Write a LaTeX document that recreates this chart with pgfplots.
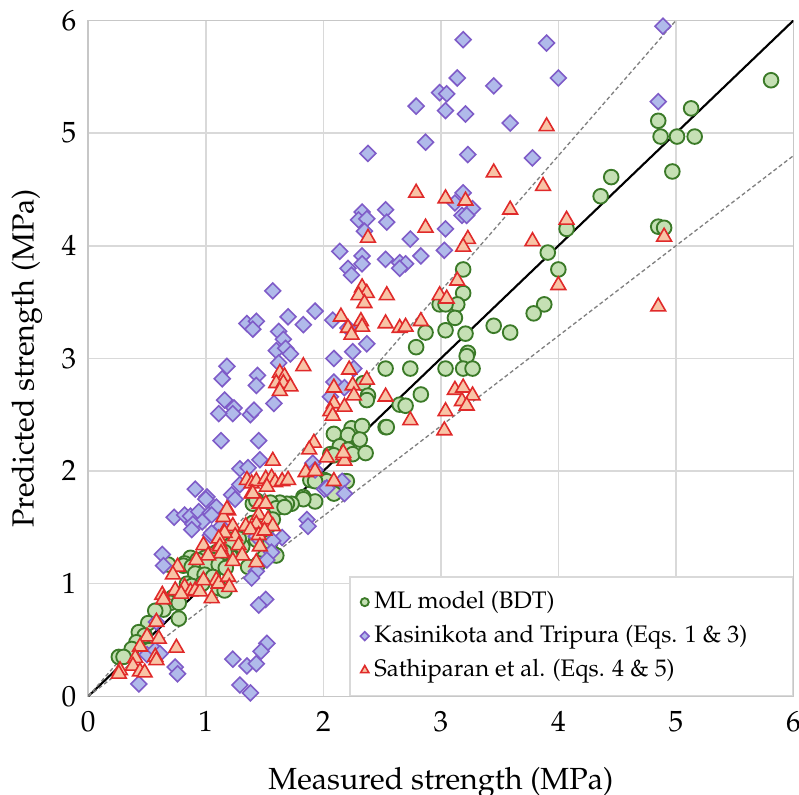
\documentclass[border=0pt]{standalone}
\usepackage[T1]{fontenc}
\usepackage{mathpazo}
\usepackage{pgfplots}
\usepackage{pgfplotstable}
\pgfplotsset{compat=1.18}
\definecolor{gridgray}{HTML}{D9D9D9}
\definecolor{mlfill}{HTML}{C5E0B4}
\definecolor{mldraw}{HTML}{3B7A28}
\definecolor{ktfill}{HTML}{B0BAEA}
\definecolor{ktdraw}{HTML}{7F5CC8}
\definecolor{stfill}{HTML}{F8C4A6}
\definecolor{stdraw}{HTML}{E02A2A}

\pgfplotstableread{
x y
5.81 5.47
5.13 5.22
4.85 5.11
4.87 4.97
5.01 4.97
5.16 4.97
4.97 4.66
4.45 4.61
4.36 4.44
4.85 4.17
4.90 4.16
4.07 4.15
3.91 3.94
4.00 3.79
3.19 3.79
3.19 3.58
3.14 3.48
3.12 3.36
3.88 3.48
3.79 3.40
3.45 3.29
3.59 3.23
3.21 3.22
3.23 3.05
3.22 3.02
3.19 2.91
3.27 2.91
2.99 3.48
3.04 3.48
2.87 3.23
3.04 3.25
2.79 3.10
2.53 2.91
2.74 2.91
3.04 2.91
2.83 2.68
2.65 2.59
2.70 2.58
2.34 2.78
2.38 2.67
2.37 2.63
2.53 2.39
2.54 2.39
2.09 2.33
2.24 2.38
2.33 2.40
2.21 2.32
2.31 2.28
2.14 2.22
2.21 2.19
2.25 2.15
2.36 2.16
2.06 2.15
2.09 2.14
2.01 1.92
2.03 1.91
2.18 1.91
2.20 1.91
2.09 1.80
1.83 1.77
1.93 1.73
1.89 1.92
1.93 1.91
1.83 1.75
1.73 1.71
1.69 1.71
1.63 1.72
1.55 1.72
1.60 1.67
1.67 1.68
1.40 1.71
1.57 1.57
1.53 1.51
1.40 1.54
1.36 1.43
1.43 1.39
1.55 1.37
1.57 1.27
1.50 1.24
1.60 1.25
1.26 1.28
1.31 1.33
1.21 1.24
1.09 1.25
1.05 1.20
1.11 1.15
1.36 1.15
1.45 1.18
1.21 1.39
1.28 1.40
1.12 1.45
1.18 1.36
1.22 1.35
1.09 1.28
1.16 1.28
0.99 1.23
1.06 1.21
0.87 1.23
0.93 1.21
0.82 1.18
0.68 1.17
0.81 1.16
0.88 1.15
0.95 1.16
1.01 1.17
1.11 1.17
1.17 1.14
0.91 1.09
0.99 1.08
1.06 1.06
0.97 1.00
0.84 1.00
0.88 0.98
1.11 0.96
1.16 0.94
0.78 0.91
0.72 0.88
0.70 0.83
0.77 0.83
0.64 0.77
0.57 0.76
0.77 0.69
0.51 0.65
0.43 0.57
0.48 0.54
0.41 0.48
0.37 0.42
0.26 0.35
0.30 0.35
0.52 0.41
1.43 1.74
}\mldata

\pgfplotstableread{
x y
3.19 5.83
3.90 5.80
3.14 5.49
3.45 5.42
2.99 5.36
3.05 5.35
2.79 5.24
3.04 5.20
3.21 5.17
3.59 5.09
2.87 4.92
2.38 4.82
3.23 4.81
3.78 4.78
3.19 4.47
3.12 4.38
3.27 4.33
3.18 4.27
3.22 4.27
2.33 4.30
2.30 4.23
2.37 4.24
2.53 4.32
2.54 4.21
2.35 4.13
3.04 4.15
2.74 4.06
2.14 3.95
2.33 3.91
2.33 3.84
2.53 3.88
2.65 3.85
2.70 3.84
2.65 3.80
2.83 3.91
3.03 3.96
2.21 3.80
2.24 3.74
1.93 3.42
1.83 3.30
2.08 3.34
2.21 3.27
2.37 3.13
2.25 3.06
2.09 3.00
2.26 2.91
2.09 2.79
2.18 2.74
2.06 2.66
4.89 5.95
4.00 5.49
4.85 5.28
1.57 3.60
1.70 3.37
1.35 3.31
1.43 3.33
1.40 3.26
1.62 3.24
1.66 3.17
1.60 3.07
1.68 3.09
1.72 3.04
1.62 2.96
1.18 2.93
1.14 2.82
1.44 2.85
1.43 2.76
1.16 2.63
1.24 2.56
1.23 2.51
1.11 2.51
1.38 2.50
1.41 2.54
1.58 2.60
1.13 2.27
1.45 2.27
1.46 2.10
1.29 2.02
1.36 2.03
0.91 1.84
1.01 1.77
1.22 1.79
1.91 2.07
2.16 1.91
2.01 1.84
2.18 1.80
1.00 1.75
0.73 1.59
0.82 1.61
0.87 1.60
0.94 1.64
0.97 1.55
0.89 1.53
0.88 1.48
1.04 1.63
1.09 1.68
1.04 1.43
0.63 1.26
0.64 1.16
1.13 1.51
1.29 1.88
1.25 1.75
1.05 1.61
2.03 1.85
1.86 1.57
1.87 1.51
1.05 1.45
1.65 1.41
1.57 1.38
1.56 1.28
1.43 1.42
1.52 1.21
1.93 2.01
0.58 0.66
0.50 0.37
0.57 0.41
0.61 0.38
0.74 0.26
0.76 0.20
0.43 0.11
1.43 1.11
1.39 1.05
1.51 0.86
1.45 0.81
1.52 0.47
1.47 0.40
1.23 0.33
1.35 0.27
1.43 0.29
1.29 0.10
1.38 0.03
}\ktdata

\pgfplotstableread{
x y
3.90 5.06
3.45 4.65
3.87 4.53
2.79 4.47
3.04 4.42
3.21 4.40
3.59 4.32
2.87 4.16
2.38 4.07
3.23 4.06
3.19 3.99
3.78 4.04
3.14 3.69
2.33 3.63
2.37 3.58
2.30 3.56
2.35 3.49
2.54 3.56
2.99 3.56
3.05 3.53
2.15 3.37
2.32 3.33
2.33 3.28
2.21 3.27
2.24 3.21
2.53 3.31
2.65 3.27
2.70 3.28
2.83 3.33
1.83 2.93
2.22 2.90
2.25 2.76
2.37 2.81
2.09 2.74
2.09 2.60
2.06 2.53
2.08 2.49
2.18 2.57
2.26 2.67
2.53 2.66
2.74 2.45
3.04 2.53
3.03 2.36
3.12 2.72
3.19 2.74
3.18 2.62
3.27 2.67
3.22 2.58
1.92 2.25
4.07 4.23
4.00 3.65
4.90 4.08
4.85 3.46
1.63 2.87
1.67 2.84
1.60 2.78
1.66 2.78
1.72 2.75
1.63 2.71
1.88 2.19
2.03 2.12
2.17 2.14
2.18 2.09
1.57 2.09
1.35 1.92
1.39 1.89
1.43 1.91
1.51 1.93
1.56 1.94
1.59 1.90
1.65 1.91
1.70 1.92
1.85 1.99
1.93 2.00
2.09 1.91
1.39 1.80
2.17 2.16
1.52 1.86
1.46 1.71
1.51 1.71
1.19 1.65
1.15 1.59
1.45 1.61
1.40 1.80
1.53 1.57
1.23 1.51
1.34 1.51
1.43 1.53
1.57 1.51
1.15 1.45
1.25 1.42
1.38 1.48
1.45 1.43
1.50 1.47
1.12 1.35
1.28 1.34
1.46 1.33
1.14 1.28
1.31 1.25
1.23 1.20
1.43 1.19
1.18 1.66
1.16 1.45
1.11 1.40
0.98 1.34
1.12 1.33
1.13 1.27
1.02 1.25
0.92 1.21
0.76 1.15
0.72 1.08
0.82 0.97
0.87 0.93
0.91 0.94
0.95 0.93
0.63 0.90
0.64 0.86
0.74 0.94
0.79 0.91
1.05 0.87
1.09 1.03
1.11 1.00
1.19 1.06
1.20 0.97
0.98 1.03
0.58 0.66
0.50 0.53
0.60 0.51
0.44 0.44
0.75 0.43
0.57 0.35
0.58 0.32
0.40 0.34
0.38 0.27
0.44 0.22
0.48 0.21
0.27 0.23
0.26 0.20
}\stdata

\begin{document}
\begin{tikzpicture}
\begin{axis}[
  name=ax,
  scale only axis,
  width=264.4bp, height=253.4bp,
  xmin=0, xmax=6, ymin=0, ymax=6,
  xtick={0,1,2,3,4,5,6}, ytick={0,1,2,3,4,5,6},
  grid=major,
  major grid style={color=gridgray, line width=0.6pt},
  axis line style={color=gridgray!80!gray, line width=0.6pt},
  tick style={draw=none},
  ticklabel style={font=\fontsize{11}{13}\selectfont},
  xticklabel style={yshift=-2bp},
  yticklabel style={xshift=-1bp},
  legend style={at={(rel axis cs:1,0)}, anchor=south east,
    draw=gridgray, fill=white, line width=0.6pt,
    font=\fontsize{9}{11}\selectfont,
    cells={anchor=west}, row sep=0.8bp,
    inner xsep=4bp, inner ysep=3.5bp},
  legend image code/.code={\draw[#1,/tikz/every mark/.append style={scale=0.55}] plot coordinates {(0.12cm,0cm)};},
]
\addplot[only marks, mark=*, mark size=2.75bp,
  mark options={fill=mlfill, draw=mldraw, line width=0.7pt}] table[x=x,y=y] {\mldata};
\addlegendentry{ML model (BDT)}
\addplot[only marks, mark=square*, mark size=2.1bp,
  mark options={fill=ktfill, draw=ktdraw, line width=0.6pt, rotate=45}] table[x=x,y=y] {\ktdata};
\addlegendentry{Kasinikota and Tripura (Eqs. 1 \& 3)\hspace*{11bp}}
\addplot[only marks, mark=triangle*, mark size=3.2bp,
  mark options={fill=stfill, draw=stdraw, line width=0.6pt}] table[x=x,y=y] {\stdata};
\addlegendentry{Sathiparan et al. (Eqs. 4 \& 5)}
\addplot[forget plot, black, line width=0.8pt] coordinates {(0,0) (6,6)};
\addplot[forget plot, gray, dashed, line width=0.5pt, dash pattern=on 1.5pt off 1pt] coordinates {(0,0) (5,6)};
\addplot[forget plot, gray, dashed, line width=0.5pt, dash pattern=on 1.5pt off 1pt] coordinates {(0,0) (6,4.8)};
\end{axis}
\node[font=\fontsize{11.5}{14}\selectfont, anchor=center] at ([yshift=-32.5bp]ax.south) {Measured strength (MPa)};
\node[font=\fontsize{11.5}{14}\selectfont, anchor=center, rotate=90] at ([xshift=-23bp]ax.west) {Predicted strength (MPa)};
\pgfresetboundingbox
\path (-33.1bp,-37.0bp) rectangle (266.5bp,261.1bp);
\end{tikzpicture}
\end{document}
